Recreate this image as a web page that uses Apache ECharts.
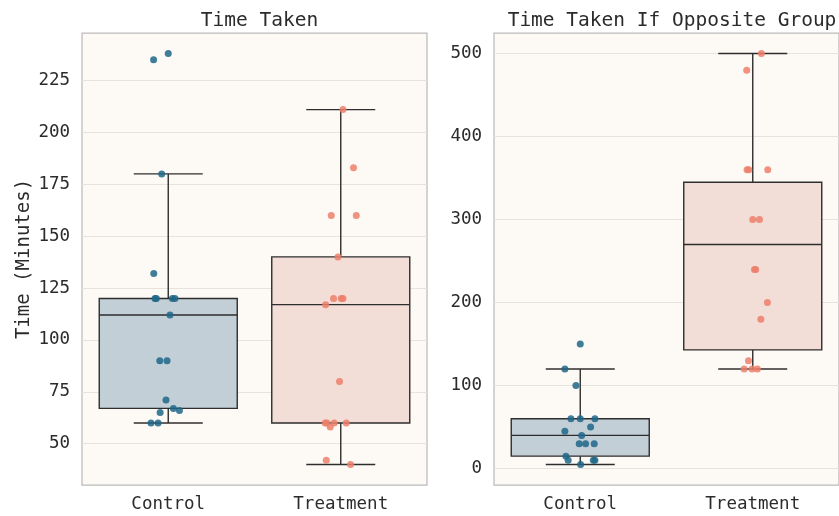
<!DOCTYPE html>
<html>
<head>
<meta charset="utf-8">
<script src="https://cdn.jsdelivr.net/npm/echarts@6/dist/echarts.min.js"></script>
<style>
  html, body { margin: 0; padding: 0; background: #ffffff; }
  #chart { width: 839px; height: 516px; }
</style>
</head>
<body>
<div id="chart"></div>
<script>
// Groups on the x axis
const categories = ['Control', 'Treatment'];

// Time taken (minutes) per participant, with horizontal strip jitter (in category units)
const takenControl = [235, 238, 180, 132, 120, 120, 120, 120, 112, 90, 90, 71, 67, 66, 65, 60, 60];
const takenControlJitter = [-0.085, 0.0, -0.038, -0.084, -0.077, -0.069, 0.024, 0.039, 0.01, -0.049, -0.007, -0.013, 0.03, 0.065, -0.047, -0.1, -0.059];
const takenTreatment = [211, 183, 160, 160, 140, 120, 120, 120, 117, 80, 60, 60, 60, 60, 58, 42, 40];
const takenTreatmentJitter = [0.013, 0.074, -0.055, 0.09, -0.016, -0.042, 0.003, 0.013, -0.088, -0.007, -0.09, -0.08, -0.038, 0.032, -0.061, -0.084, 0.057];

// Time taken if placed in the opposite group
const oppControl = [150, 120, 100, 60, 60, 60, 50, 45, 40, 30, 30, 30, 15, 10, 10, 10, 5];
const oppControlJitter = [0.0, -0.089, -0.025, -0.054, 0.0, 0.085, 0.06, -0.089, 0.008, -0.006, 0.031, 0.081, -0.083, -0.07, 0.076, 0.085, 0.002];
const oppTreatment = [500, 480, 360, 360, 360, 300, 300, 240, 240, 200, 180, 130, 120, 120, 120];
const oppTreatmentJitter = [0.05, -0.035, -0.033, -0.023, 0.087, 0.0, 0.039, 0.01, 0.017, 0.085, 0.047, -0.025, -0.05, -0.004, 0.027];

// Box summaries: [lower whisker, Q1, median, Q3, upper whisker]
const takenBoxes = [[60, 67, 112, 120, 180], [40, 60, 117, 140, 211]];
const oppBoxes = [[5, 15, 40, 60, 120], [120, 143, 270, 345, 500]];

// Axis ticks and ranges
const takenTicks = [50, 75, 100, 125, 150, 175, 200, 225];
const oppTicks = [0, 100, 200, 300, 400, 500];
const takenRange = [30.1, 247.9];
const oppRange = [-19.75, 524.75];

const FONT = 'DejaVu Sans Mono';
const TEXT = '#2b2b2b';
const boxFill = ['#c3cfd6', '#f3ddd7'];
const dotColor = ['#1f6688', '#ec7f6b'];

function renderBox(params, api) {
  const i = api.value(0);
  const band = api.size([1, 0])[0];
  const halfBox = band * 0.4;
  const halfCap = band * 0.2;
  const pMin = api.coord([i, api.value(1)]);
  const pQ1 = api.coord([i, api.value(2)]);
  const pMed = api.coord([i, api.value(3)]);
  const pQ3 = api.coord([i, api.value(4)]);
  const pMax = api.coord([i, api.value(5)]);
  const cx = pMed[0];
  const stroke = { stroke: '#2e2e2e', lineWidth: 1.4, fill: null };
  return {
    type: 'group',
    children: [
      { type: 'rect', shape: { x: cx - halfBox, y: pQ3[1], width: halfBox * 2, height: pQ1[1] - pQ3[1] },
        style: { fill: boxFill[i], stroke: '#2e2e2e', lineWidth: 1.4 } },
      { type: 'line', shape: { x1: cx - halfBox, y1: pMed[1], x2: cx + halfBox, y2: pMed[1] }, style: stroke },
      { type: 'line', shape: { x1: cx, y1: pQ3[1], x2: cx, y2: pMax[1] }, style: stroke },
      { type: 'line', shape: { x1: cx, y1: pQ1[1], x2: cx, y2: pMin[1] }, style: stroke },
      { type: 'line', shape: { x1: cx - halfCap, y1: pMax[1], x2: cx + halfCap, y2: pMax[1] }, style: stroke },
      { type: 'line', shape: { x1: cx - halfCap, y1: pMin[1], x2: cx + halfCap, y2: pMin[1] }, style: stroke }
    ]
  };
}

function boxData(boxes) {
  return boxes.map((b, i) => [i].concat(b));
}
function strip(values, jitter, idx) {
  return values.map((v, k) => [idx + jitter[k], v]);
}

function yAxisFor(gridIndex, range, ticks, withName) {
  const ax = {
    type: 'value', gridIndex: gridIndex,
    min: range[0], max: range[1],
    axisLine: { show: false },
    axisTick: { show: false, customValues: ticks },
    axisLabel: { customValues: ticks, fontFamily: FONT, fontSize: 17.5, color: TEXT, margin: 12, padding: [4, 0, 0, 0] },
    splitLine: { show: true, lineStyle: { color: '#e6e3de', width: 1 } }
  };
  if (withName) {
    ax.name = 'Time (Minutes)';
    ax.nameLocation = 'middle';
    ax.nameGap = 48;
    ax.nameTextStyle = { fontFamily: FONT, fontSize: 19, color: TEXT };
  }
  return ax;
}

const grids = [
  { left: 82, top: 33, width: 345, height: 452 },
  { left: 494, top: 33, width: 346, height: 452 }
].map(g => Object.assign(g, { show: true, backgroundColor: '#fdfaf5', borderColor: '#bbbbbb', borderWidth: 1.25 }));

const catAxis = gi => ({
  type: 'category', gridIndex: gi, data: categories,
  axisLine: { show: false }, axisTick: { show: false },
  axisLabel: { fontFamily: FONT, fontSize: 17.5, color: TEXT, margin: 10 },
  splitLine: { show: false }
});
const jitterAxis = gi => ({ type: 'value', gridIndex: gi, min: -0.5, max: 1.5, show: false, splitLine: { show: false } });

const dotStyle = c => ({ color: c, opacity: 0.85 });

const option = {
  animation: false,
  backgroundColor: '#ffffff',
  title: [
    { text: 'Time Taken', left: 254.5, top: 6, textAlign: 'center',
      textStyle: { fontFamily: FONT, fontSize: 19.5, fontWeight: 'normal', color: TEXT } },
    { text: 'Time Taken If Opposite Group', left: 667, top: 6, textAlign: 'center',
      textStyle: { fontFamily: FONT, fontSize: 19.5, fontWeight: 'normal', color: TEXT } }
  ],
  grid: grids,
  xAxis: [catAxis(0), catAxis(1), jitterAxis(0), jitterAxis(1)],
  yAxis: [yAxisFor(0, takenRange, takenTicks, true), yAxisFor(1, oppRange, oppTicks, false)],
  series: [
    { type: 'custom', xAxisIndex: 0, yAxisIndex: 0, renderItem: renderBox, data: boxData(takenBoxes), encode: { x: 0, y: [1, 2, 3, 4, 5] }, z: 2 },
    { type: 'custom', xAxisIndex: 1, yAxisIndex: 1, renderItem: renderBox, data: boxData(oppBoxes), encode: { x: 0, y: [1, 2, 3, 4, 5] }, z: 2 },
    { type: 'scatter', xAxisIndex: 2, yAxisIndex: 0, symbolSize: 7, itemStyle: dotStyle(dotColor[0]), data: strip(takenControl, takenControlJitter, 0), z: 3 },
    { type: 'scatter', xAxisIndex: 2, yAxisIndex: 0, symbolSize: 7, itemStyle: dotStyle(dotColor[1]), data: strip(takenTreatment, takenTreatmentJitter, 1), z: 3 },
    { type: 'scatter', xAxisIndex: 3, yAxisIndex: 1, symbolSize: 7, itemStyle: dotStyle(dotColor[0]), data: strip(oppControl, oppControlJitter, 0), z: 3 },
    { type: 'scatter', xAxisIndex: 3, yAxisIndex: 1, symbolSize: 7, itemStyle: dotStyle(dotColor[1]), data: strip(oppTreatment, oppTreatmentJitter, 1), z: 3 }
  ]
};

const chart = echarts.init(document.getElementById('chart'), null, { renderer: 'canvas' });
chart.setOption(option);
</script>
</body>
</html>
